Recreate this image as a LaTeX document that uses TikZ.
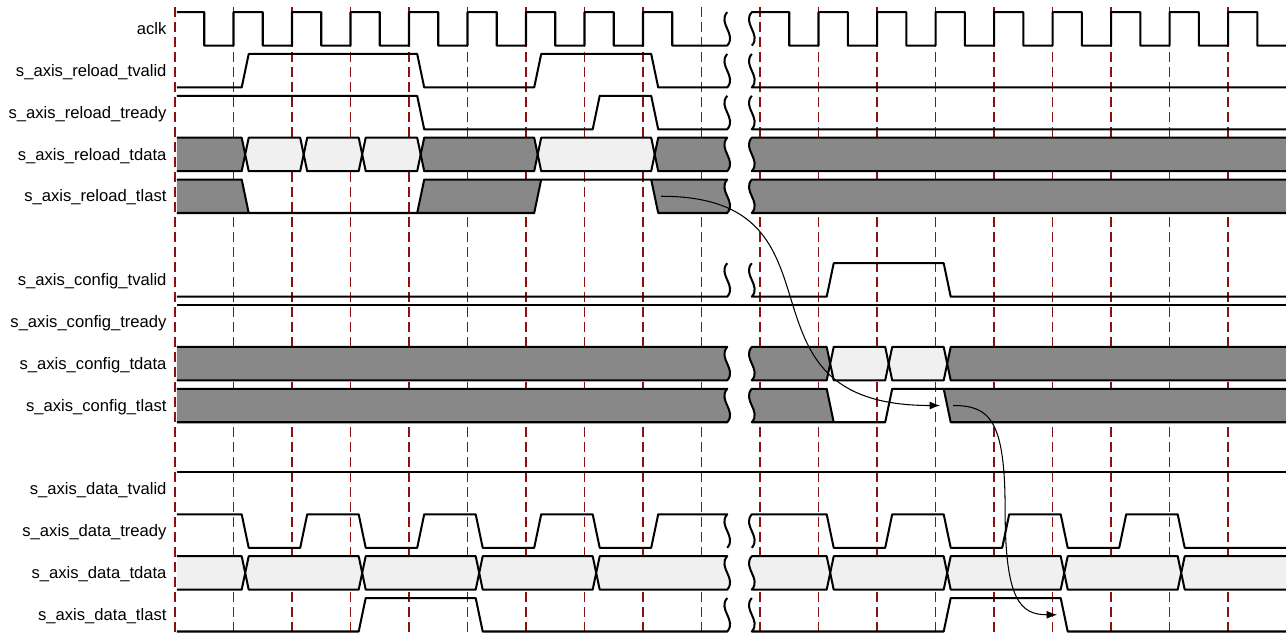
\documentclass[tikz,border=0pt]{standalone}
\usepackage{fontspec}
\setmainfont{Liberation Sans}
\usepackage{tikz}
\usetikzlibrary{arrows.meta}

\definecolor{gridred}{RGB}{140,16,16}
\definecolor{busdark}{RGB}{136,136,136}
\definecolor{buslight}{RGB}{240,240,240}

% break marks, one row high
\newcommand{\wigup}{.. controls +(0.17,-0.27) and +(-0.17,0.27) .. +(0,-0.8)}
\newcommand{\wigdown}{.. controls +(-0.17,0.27) and +(0.17,-0.27) .. +(0,0.8)}

\tikzset{
  wave/.style={line width=1.15pt, line join=round},
  clkline/.style={gridred, line width=0.6pt, dash pattern=on 0.2cm off 0.1cm},
  lbl/.style={anchor=base east, inner sep=0pt},
  dep/.style={line width=0.6pt, -{Latex[length=6pt,width=4.5pt]}},
}

\begin{document}
\begin{tikzpicture}[x=1.17cm, y=-0.837cm, font=\fontsize{9.45}{11}\selectfont]
\useasboundingbox (-2.9915,-0.6894) rectangle (18.9915,14.46);

% signal names
\node[lbl] (aclk) at (-0.14,0.135) {aclk};
\node[lbl] (rvalid) at (-0.14,1.135) {s\_axis\_reload\_tvalid};
\node[lbl] (rready) at (-0.14,2.135) {s\_axis\_reload\_tready};
\node[lbl] (rdata) at (-0.14,3.135) {s\_axis\_reload\_tdata};
\node[lbl] (rlast) at (-0.14,4.135) {s\_axis\_reload\_tlast};
\node[lbl] (cvalid) at (-0.14,6.135) {s\_axis\_config\_tvalid};
\node[lbl] (cready) at (-0.14,7.135) {s\_axis\_config\_tready};
\node[lbl] (cdata) at (-0.14,8.135) {s\_axis\_config\_tdata};
\node[lbl] (clast) at (-0.14,9.135) {s\_axis\_config\_tlast};
\node[lbl] (dvalid) at (-0.14,11.135) {s\_axis\_data\_tvalid};
\node[lbl] (dready) at (-0.14,12.135) {s\_axis\_data\_tready};
\node[lbl] (ddata) at (-0.14,13.135) {s\_axis\_data\_tdata};
\node[lbl] (dlast) at (-0.14,14.135) {s\_axis\_data\_tlast};

% clock edges
\foreach \k in {0,...,18}
  \draw[clkline] (\k,-0.52) -- (\k,14.5);

% aclk
\draw[wave] (0.03,-0.4) foreach \k in {1,...,8} { -- (\k-0.5,-0.4) -- (\k-0.5,0.4) -- (\k,0.4) -- (\k,-0.4) }
  -- (8.5,-0.4) -- (8.5,0.4) -- (9.44,0.4) \wigup;
\draw[wave] (9.86,0.4) \wigup foreach \k in {11,...,18} { -- (\k-0.5,-0.4) -- (\k-0.5,0.4) -- (\k,0.4) -- (\k,-0.4) }
  -- (18.5,-0.4) -- (18.5,0.4) -- (19.1,0.4);

% reload channel
\draw[wave] (0.03,1.4) -- (1.14,1.4) -- (1.26,0.6) -- (4.14,0.6) -- (4.26,1.4) -- (6.14,1.4) -- (6.26,0.6)
  -- (8.14,0.6) -- (8.26,1.4) -- (9.44,1.4) \wigup;
\draw[wave] (9.86,0.6) \wigdown -- (19.1,1.4);
\draw[wave] (0.03,1.6) -- (4.14,1.6) -- (4.26,2.4) -- (7.14,2.4) -- (7.26,1.6) -- (8.14,1.6) -- (8.26,2.4)
  -- (9.44,2.4) \wigup;
\draw[wave] (9.86,1.6) \wigdown -- (19.1,2.4);

\filldraw[wave, fill=busdark] (0.03,2.6) -- (1.14,2.6) -- (1.2,3) -- (1.14,3.4) -- (0.03,3.4);
\foreach \a/\b/\col in {1/2/buslight, 2/3/buslight, 3/4/buslight, 4/6/busdark, 6/8/buslight}
  \filldraw[wave, fill=\col] (\a+0.2,3) -- (\a+0.26,2.6) -- (\b+0.14,2.6) -- (\b+0.2,3) -- (\b+0.14,3.4) -- (\a+0.26,3.4) -- cycle;
\filldraw[wave, fill=busdark] (8.2,3) -- (8.26,2.6) -- (9.44,2.6) \wigdown -- (8.26,3.4) -- cycle;
\filldraw[wave, fill=busdark] (19.1,2.6) -- (9.86,2.6) \wigdown -- (19.1,3.4);

\fill[busdark] (0.03,3.6) -- (1.14,3.6) -- (1.26,4.4) -- (0.03,4.4) -- cycle;
\fill[busdark] (4.14,4.4) -- (4.26,3.6) -- (6.26,3.6) -- (6.14,4.4) -- cycle;
\fill[busdark] (8.14,3.6) -- (9.44,3.6) \wigdown -- (8.26,4.4) -- cycle;
\fill[busdark] (19.1,3.6) -- (9.86,3.6) \wigdown -- (19.1,4.4) -- cycle;
\draw[wave] (0.03,3.6) -- (1.14,3.6) -- (1.26,4.4);
\draw[wave] (0.03,4.4) -- (4.14,4.4) -- (4.26,3.6) -- (9.44,3.6) \wigdown -- (8.26,4.4) -- (8.14,3.6);
\draw[wave] (4.14,4.4) -- (6.14,4.4) -- (6.26,3.6);
\draw[wave] (19.1,3.6) -- (9.86,3.6) \wigdown -- (19.1,4.4);

% config channel
\draw[wave] (0.03,6.4) -- (9.44,6.4) \wigup;
\draw[wave] (9.86,5.6) \wigdown -- (11.14,6.4) -- (11.26,5.6) -- (13.14,5.6) -- (13.26,6.4) -- (19.1,6.4);
\draw[wave] (0.03,6.6) -- (19.1,6.6);

\filldraw[wave, fill=busdark] (0.03,7.6) -- (9.44,7.6) \wigdown -- (0.03,8.4);
\filldraw[wave, fill=busdark] (9.86,7.6) -- (11.14,7.6) -- (11.2,8) -- (11.14,8.4) -- (9.86,8.4) \wigup -- cycle;
\foreach \a/\b in {11/12, 12/13}
  \filldraw[wave, fill=buslight] (\a+0.2,8) -- (\a+0.26,7.6) -- (\b+0.14,7.6) -- (\b+0.2,8) -- (\b+0.14,8.4) -- (\a+0.26,8.4) -- cycle;
\filldraw[wave, fill=busdark] (19.1,7.6) -- (13.26,7.6) -- (13.2,8) -- (13.26,8.4) -- (19.1,8.4);

\fill[busdark] (0.03,8.6) -- (9.44,8.6) \wigdown -- (0.03,9.4) -- cycle;
\fill[busdark] (9.86,8.6) \wigdown -- (11.26,9.4) -- (11.14,8.6) -- cycle;
\fill[busdark] (13.14,8.6) -- (19.1,8.6) -- (19.1,9.4) -- (13.26,9.4) -- cycle;
\draw[wave] (0.03,8.6) -- (9.44,8.6) \wigdown -- (0.03,9.4);
\draw[wave] (11.26,9.4) -- (11.14,8.6) -- (9.86,8.6) \wigdown -- (12.14,9.4) -- (12.26,8.6) -- (19.1,8.6);
\draw[wave] (13.14,8.6) -- (13.26,9.4) -- (19.1,9.4);

% data channel
\draw[wave] (0.03,10.6) -- (19.1,10.6);
\draw[wave] (0.03,11.6) -- (1.14,11.6) -- (1.26,12.4) -- (2.14,12.4) -- (2.26,11.6) -- (3.14,11.6) -- (3.26,12.4)
  -- (4.14,12.4) -- (4.26,11.6) -- (5.14,11.6) -- (5.26,12.4) -- (6.14,12.4) -- (6.26,11.6) -- (7.14,11.6)
  -- (7.26,12.4) -- (8.14,12.4) -- (8.26,11.6) -- (9.44,11.6) \wigdown;
\draw[wave] (9.86,12.4) \wigup -- (11.14,11.6) -- (11.26,12.4) -- (12.14,12.4) -- (12.26,11.6) -- (13.14,11.6)
  -- (13.26,12.4) -- (14.14,12.4) -- (14.26,11.6) -- (15.14,11.6) -- (15.26,12.4) -- (16.14,12.4)
  -- (16.26,11.6) -- (17.14,11.6) -- (17.26,12.4) -- (19.1,12.4);

\filldraw[wave, fill=buslight] (0.03,12.6) -- (1.14,12.6) -- (1.2,13) -- (1.14,13.4) -- (0.03,13.4);
\foreach \a/\b in {1/3, 3/5, 5/7, 11/13, 13/15, 15/17}
  \filldraw[wave, fill=buslight] (\a+0.2,13) -- (\a+0.26,12.6) -- (\b+0.14,12.6) -- (\b+0.2,13) -- (\b+0.14,13.4) -- (\a+0.26,13.4) -- cycle;
\filldraw[wave, fill=buslight] (7.2,13) -- (7.26,12.6) -- (9.44,12.6) \wigdown -- (7.26,13.4) -- cycle;
\filldraw[wave, fill=buslight] (9.86,12.6) -- (11.14,12.6) -- (11.2,13) -- (11.14,13.4) -- (9.86,13.4) \wigup -- cycle;
\filldraw[wave, fill=buslight] (19.1,12.6) -- (17.26,12.6) -- (17.2,13) -- (17.26,13.4) -- (19.1,13.4);

\draw[wave] (0.03,14.4) -- (3.14,14.4) -- (3.26,13.6) -- (5.14,13.6) -- (5.26,14.4) -- (9.44,14.4) \wigup;
\draw[wave] (9.86,13.6) \wigdown -- (13.14,14.4) -- (13.26,13.6) -- (15.14,13.6) -- (15.26,14.4) -- (19.1,14.4);

% tlast dependencies
\coordinate (rl) at (8.31,4);
\coordinate (cl) at (13.08,9);
\coordinate (cs) at (13.3,9);
\coordinate (bend) at (14.19,11.5);
\coordinate (dl) at (15.08,14);
\draw[dep] (rl) .. controls +(3.4,0) and +(-3.76,0) .. (cl);
\draw[dep] (cs) .. controls +(0.63,0) and +(0,-2.15) .. (bend) .. controls +(0,2.15) and +(-0.63,0) .. (dl);
\end{tikzpicture}
\end{document}
